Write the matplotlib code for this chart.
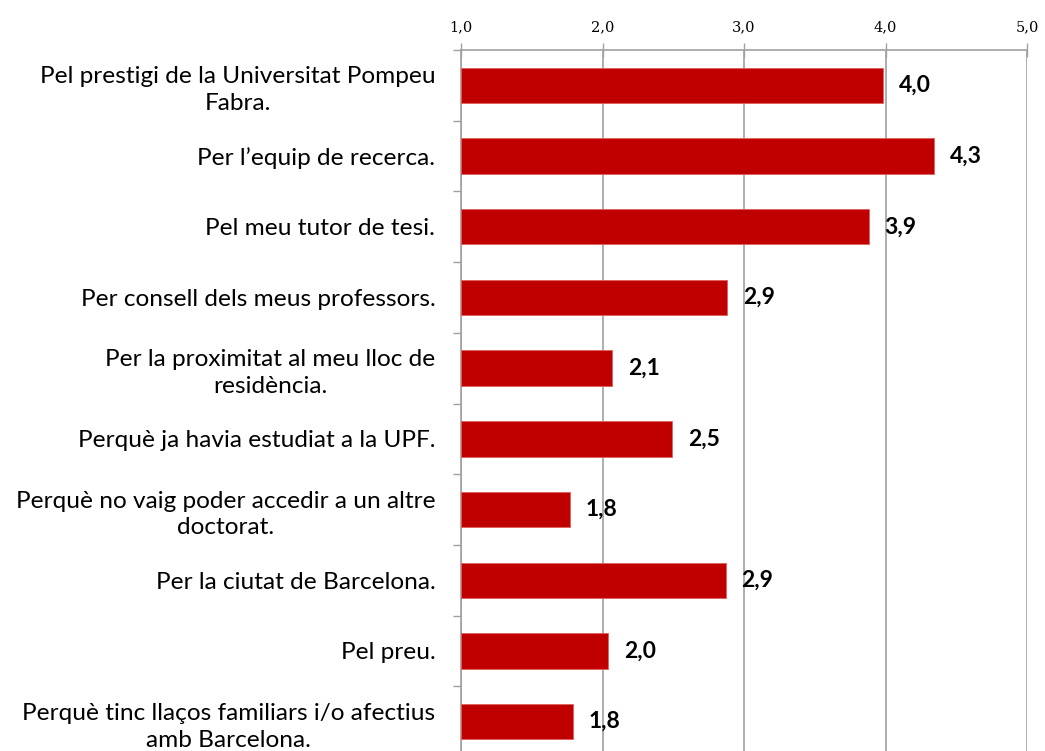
import matplotlib.pyplot as plt
from matplotlib.ticker import FixedLocator

categories = [
    "Pel prestigi de la Universitat Pompeu\nFabra.",
    "Per l\u2019equip de recerca.",
    "Pel meu tutor de tesi.",
    "Per consell dels meus professors.",
    "Per la proximitat al meu lloc de\nresidència.",
    "Perquè ja havia estudiat a la UPF.",
    "Perquè no vaig poder accedir a un altre\ndoctorat.",
    "Per la ciutat de Barcelona.",
    "Pel preu.",
    "Perquè tinc llaços familiars i/o afectius\namb Barcelona.",
]
values = [3.98, 4.34, 3.88, 2.88, 2.07, 2.49, 1.77, 2.87, 2.04, 1.79]
labels = ["4,0", "4,3", "3,9", "2,9", "2,1", "2,5", "1,8", "2,9", "2,0", "1,8"]
xticks = [1.0, 2.0, 3.0, 4.0, 5.0]
xticklabels = ["1,0", "2,0", "3,0", "4,0", "5,0"]

W, H = 1045, 751
fig = plt.figure(figsize=(W / 100, H / 100), dpi=100)
# plot area in pixels: x 461..1027, y 50..757 (bottom slightly cut)
ax = fig.add_axes([461 / W, 1 - 757 / H, (1027 - 461) / W, (757 - 50) / H])

pos = list(range(len(categories)))
bar_w = [v - 1.0 for v in values]
ax.barh(pos, bar_w, left=1.0, height=0.5, color="#C00000",
        edgecolor="#E06060", linewidth=0.6, zorder=3)

for p, v, lab in zip(pos, values, labels):
    ax.annotate(lab, (v, p), xytext=(11.5, 0), textcoords="offset points",
                va="center", ha="left", fontsize=16.5, fontweight="bold",
                family="Lato", color="black", zorder=4)

ax.set_xlim(1.0, 5.0)
ax.set_ylim(len(categories) - 0.5, -0.5)

ax.xaxis.tick_top()
ax.set_xticks(xticks)
ax.set_xticklabels(xticklabels, family="DejaVu Serif", fontsize=10.5)
ax.tick_params(axis="x", direction="inout", length=10, width=1,
               color="#A0A0A0", pad=6)
ax.grid(axis="x", color="#A0A0A0", linewidth=1.2, zorder=0)

ax.set_yticks(pos)
ax.set_yticklabels(categories, family="Lato", fontsize=17.6,
                   ma="center", linespacing=1.35)
ax.tick_params(axis="y", which="major", length=0, pad=18.5)
ax.yaxis.set_minor_locator(FixedLocator([p + 0.5 for p in pos[:-1]] + [-0.5]))
ax.tick_params(axis="y", which="minor", length=6, width=1, color="#A0A0A0")

for s in ["right", "bottom"]:
    ax.spines[s].set_visible(False)
for s in ["left", "top"]:
    ax.spines[s].set_color("#A0A0A0")
    ax.spines[s].set_linewidth(1.2)

fig.savefig("out.png", dpi=100)
